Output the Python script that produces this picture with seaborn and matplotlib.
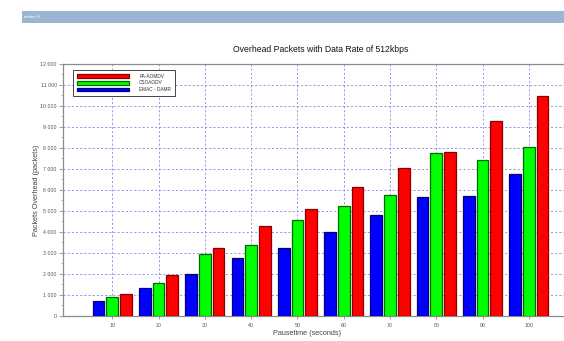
import numpy as np
import pandas as pd
import matplotlib
matplotlib.use("Agg")
import matplotlib.pyplot as plt
from matplotlib.ticker import FuncFormatter, MultipleLocator
import seaborn as sns

# Pause times (seconds) on the x axis
pausetimes = [10, 20, 30, 40, 50, 60, 70, 80, 90, 100]

# Overhead packets per protocol
emac_damr = [715, 1306, 1989, 2752, 3243, 3977, 4788, 5675, 5708, 6757]
csoaodv = [877, 1574, 2957, 3386, 4549, 5217, 5741, 7773, 7425, 8030]
pa_aomdv = [1049, 1955, 3243, 4292, 5103, 6124, 7029, 7806, 9285, 10491]

protocols = ["EMAC - DAMR", "CSOAODV", "PA-AOMDV"]
series = [emac_damr, csoaodv, pa_aomdv]
fills = ["#0000ff", "#00ff00", "#ff0000"]
edges = ["#00007a", "#006a00", "#8a0000"]

df = pd.DataFrame({
    "Pausetime": [str(p) for _ in protocols for p in pausetimes],
    "Protocol": [name for name in protocols for _ in pausetimes],
    "Packets": [v for s in series for v in s],
})

sns.set_theme(style="white")
plt.rcParams["font.family"] = ["Liberation Sans", "DejaVu Sans"]

fig = plt.figure(figsize=(5.64, 3.41), dpi=100)
fig.patch.set_facecolor("white")

# window title strip
fig.patches.append(plt.Rectangle((22 / 564, 1 - 23 / 341), 542 / 564, 12 / 341,
                                 transform=fig.transFigure, facecolor="#9bb6d2",
                                 edgecolor="none"))
fig.text(24 / 564, 1 - 17.5 / 341, "ember 8", color="white", fontsize=3.2,
         va="center", ha="left")

ax = fig.add_axes([63 / 564, 1 - 315.7 / 341, 1 - 63 / 564, (315.7 - 64) / 341])

sns.barplot(data=df, x="Pausetime", y="Packets", hue="Protocol",
            hue_order=protocols, palette=fills, saturation=1, width=0.89, gap=0.15,
            linewidth=0.9, errorbar=None, legend=False, ax=ax, zorder=3)

for cont, ec in zip(ax.containers, edges):
    for bar in cont:
        bar.set_edgecolor(ec)

ax.set_xlim(-1.065, 9.76)
ax.set_ylim(0, 12000)
ax.yaxis.set_major_locator(MultipleLocator(1000))
ax.yaxis.set_minor_locator(MultipleLocator(500))
ax.yaxis.set_major_formatter(FuncFormatter(
    lambda v, _: f"{int(v):,}".replace(",", " ")))

ax.grid(True, which="major", axis="both", color="#8a82e6", linestyle=(0, (2.5, 2.5)),
        linewidth=0.6, zorder=0)
ax.set_axisbelow(True)

for side in ["left", "bottom", "top"]:
    ax.spines[side].set_visible(True)
    ax.spines[side].set_color("#8c8c8c")
    ax.spines[side].set_linewidth(0.9)
ax.spines["right"].set_visible(False)

ax.tick_params(axis="y", which="major", direction="out", length=3, width=0.6,
               color="#8c8c8c", labelsize=3.8, labelcolor="#555555", pad=1.5, left=True)
ax.tick_params(axis="y", which="minor", direction="out", length=1.6, width=0.5,
               color="#8c8c8c", left=True)
ax.tick_params(axis="x", direction="out", length=2, width=0.6, color="#8c8c8c",
               labelsize=3.8, labelcolor="#555555", pad=3, bottom=True)

ax.set_xlabel("Pausetime (seconds)", fontsize=5.2, color="#444444")
ax.set_ylabel("Packets Overhead (packets)", fontsize=5.2, color="#444444")
ax.xaxis.set_label_coords((307 - 63) / (564 - 63), -(333.5 - 315.7) / (315.7 - 64))
ax.yaxis.set_label_coords(-(63 - 36) / (564 - 63), 0.5)
ax.xaxis.label.set_va("center")
ax.yaxis.label.set_va("center")

fig.text(321 / 564, 1 - 50 / 341, "Overhead Packets with Data Rate of 512kbps",
         ha="center", va="center", fontsize=6.2, color="#111111")

# legend lists the protocols from top (PA-AOMDV) to bottom (EMAC - DAMR)
handles = [ax.containers[i][0] for i in (2, 1, 0)]
labels = [protocols[i] for i in (2, 1, 0)]
leg = ax.legend(handles, labels, loc="upper left",
                bbox_to_anchor=((70.7 - 63) / (564 - 63), (315.7 - 67.7) / (315.7 - 64)),
                fontsize=3.4, handlelength=11, handleheight=0.9, handletextpad=2.2,
                labelspacing=0.35, borderpad=0.8, frameon=True, fancybox=False,
                edgecolor="#444444", framealpha=1)
leg.get_frame().set_linewidth(0.7)
for t in leg.get_texts():
    t.set_color("#333333")

fig.savefig("out.png", dpi=100, facecolor="white")
